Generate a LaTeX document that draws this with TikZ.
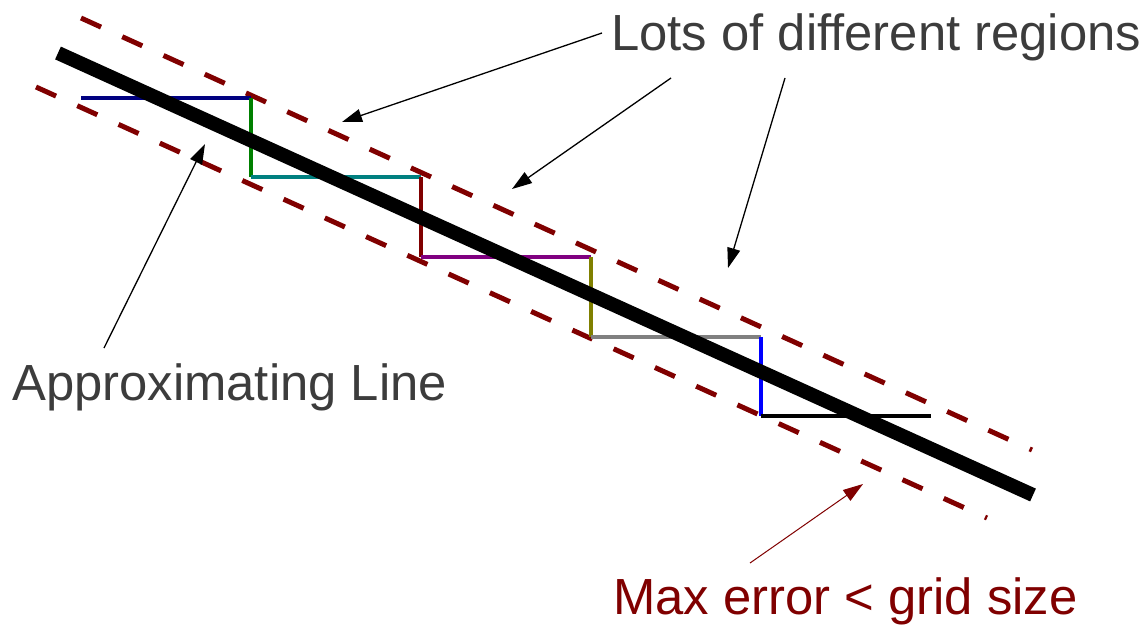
\documentclass[tikz,border=0pt]{standalone}
\usepackage{fontspec}
\setmainfont{Liberation Sans}
\usetikzlibrary{arrows.meta}

\definecolor{darkred}{HTML}{800000}
\definecolor{textgray}{HTML}{3C3C3C}

\tikzset{
  bound/.style={darkred, line width=5pt, dash pattern=on 22pt off 23.3pt},
  stair/.style={line width=4.5pt},
  callout/.style={inner sep=0pt, anchor=base west, textgray,
                  font=\fontsize{50.8}{60}\selectfont},
  pointer/.style={line width=1.3pt, -{Triangle[length=20pt,width=13pt]}},
}

\begin{document}
\begin{tikzpicture}[x=1pt, y=-1pt]
  \useasboundingbox (0,0) rectangle (1145,627);

  % Error bounds
  \coordinate (up start) at (81,18);
  \coordinate (up end) at (1032,450);
  \coordinate (low start) at (36,87);
  \coordinate (low end) at (987,518);
  \draw[bound] (up start) -- (up end);
  \draw[bound] (low start) -- (low end);

  % Grid steps
  \coordinate (s0) at (81,98);
  \coordinate (s1) at (251,98);
  \coordinate (s2) at (251,177);
  \coordinate (s3) at (421,177);
  \coordinate (s4) at (421,257);
  \coordinate (s5) at (591,257);
  \coordinate (s6) at (591,337);
  \coordinate (s7) at (761,337);
  \coordinate (s8) at (761,416);
  \coordinate (s9) at (931,416);
  \draw[stair, color={rgb,255:red,0;green,0;blue,128}] (s0) -- (s1);
  \draw[stair, color={rgb,255:red,0;green,128;blue,0}] (s1) -- (s2);
  \draw[stair, color={rgb,255:red,0;green,128;blue,128}] (s2) -- (s3);
  \draw[stair, darkred] (s3) -- (s4);
  \draw[stair, color={rgb,255:red,128;green,0;blue,128}] (s4) -- (s5);
  \draw[stair, color={rgb,255:red,128;green,128;blue,0}] (s5) -- (s6);
  \draw[stair, color={rgb,255:red,128;green,128;blue,128}] (s6) -- (s7);
  \draw[stair, blue] (s7) -- (s8);
  \draw[stair, black] (s8) -- (s9);

  % Approximating line
  \coordinate (line start) at (58,53);
  \coordinate (line end) at (1033,495);
  \draw[line width=14pt] (line start) -- (line end);

  % Labels
  \node[callout] (lots) at (611,50) {Lots of different regions};
  \node[callout] (approx) at (12,400) {Approximating Line};
  \node[callout, darkred] (maxerr) at (613,614) {Max error < grid size};

  % Pointers
  \coordinate (lots tail1) at (602,33);
  \coordinate (lots tail2) at (671,78);
  \coordinate (lots tail3) at (785,78);
  \coordinate (region1) at (342,122);
  \coordinate (region2) at (512,189);
  \coordinate (region3) at (728,268);
  \draw[pointer] (lots tail1) -- (region1);
  \draw[pointer] (lots tail2) -- (region2);
  \draw[pointer] (lots tail3) -- (region3);

  \coordinate (approx tail) at (104,348);
  \coordinate (approx tip) at (205,144);
  \draw[pointer] (approx tail) -- (approx tip);

  \coordinate (maxerr tail) at (750,563);
  \coordinate (maxerr tip) at (863,484);
  \draw[pointer, darkred, line width=1pt] (maxerr tail) -- (maxerr tip);
\end{tikzpicture}
\end{document}
